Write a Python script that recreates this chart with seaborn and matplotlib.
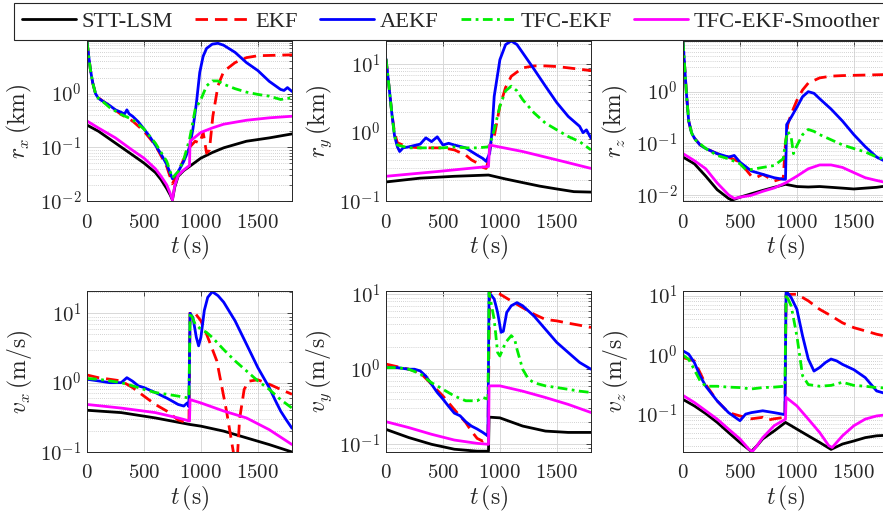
import numpy as np
import pandas as pd
import matplotlib
matplotlib.use("Agg")
import matplotlib.pyplot as plt
import seaborn as sns
from matplotlib.ticker import FuncFormatter, LogLocator, NullFormatter, FixedLocator

# ---------------- data ----------------
series_names = ["STT-LSM", "EKF", "AEKF", "TFC-EKF", "TFC-EKF-Smoother"]

# r_x (km)
rx_t_stt = [0, 100, 250, 400, 500, 600, 650, 700, 730, 750, 770, 800, 850, 900, 1000, 1100, 1200, 1400, 1600, 1800]
rx_stt = [0.26, 0.2, 0.12, 0.072, 0.051, 0.034, 0.025, 0.017, 0.013, 0.0105, 0.018, 0.029, 0.037, 0.044, 0.063, 0.08, 0.098, 0.13, 0.15, 0.178]
rx_t_ekf = [0, 15, 30, 50, 75, 100, 150, 200, 300, 400, 500, 600, 700, 750, 800, 850, 900, 950, 990, 1020, 1050, 1075, 1105, 1150, 1200, 1300, 1400, 1500, 1650, 1800]
rx_ekf = [9.5, 5, 2.8, 1.6, 1.0, 0.84, 0.7, 0.59, 0.41, 0.31, 0.2, 0.11, 0.044, 0.021, 0.035, 0.06, 0.1, 0.13, 0.12, 0.19, 0.078, 0.089, 0.38, 1.4, 2.6, 3.8, 4.7, 5.1, 5.2, 5.3]
rx_t_aekf = [0, 15, 30, 50, 75, 100, 150, 200, 250, 300, 330, 350, 370, 400, 450, 500, 550, 600, 650, 700, 750, 800, 850, 900, 930, 960, 990, 1020, 1050, 1100, 1150, 1200, 1300, 1400, 1500, 1600, 1700, 1730, 1760, 1800]
rx_aekf = [9.5, 5, 2.8, 1.6, 1.0, 0.82, 0.7, 0.6, 0.5, 0.45, 0.42, 0.5, 0.42, 0.38, 0.3, 0.22, 0.16, 0.11, 0.075, 0.048, 0.026, 0.035, 0.055, 0.1, 0.22, 0.65, 2.5, 5.0, 7.0, 8.4, 8.7, 8.0, 5.9, 3.8, 2.7, 1.7, 1.2, 1.15, 1.3, 1.1]
rx_t_tfc = [0, 15, 30, 50, 75, 100, 150, 200, 300, 400, 500, 600, 700, 750, 800, 850, 900, 950, 1000, 1050, 1100, 1150, 1200, 1300, 1400, 1500, 1600, 1700, 1800]
rx_tfc = [9.5, 5, 2.8, 1.6, 1.0, 0.82, 0.68, 0.55, 0.41, 0.33, 0.22, 0.12, 0.055, 0.027, 0.035, 0.06, 0.14, 0.51, 0.78, 1.4, 1.73, 1.73, 1.5, 1.24, 1.07, 0.97, 0.9, 0.78, 0.84]
rx_t_smo = [0, 100, 250, 400, 500, 600, 650, 700, 730, 750, 770, 800, 850, 900, 905, 1000, 1100, 1200, 1400, 1600, 1800]
rx_smo = [0.31, 0.23, 0.15, 0.088, 0.063, 0.04, 0.029, 0.02, 0.014, 0.0105, 0.019, 0.03, 0.038, 0.046, 0.13, 0.19, 0.23, 0.27, 0.32, 0.355, 0.38]

# r_y (km)
ry_t_stt = [0, 300, 600, 900, 1050, 1200, 1350, 1500, 1650, 1800]
ry_stt = [0.19, 0.216, 0.23, 0.24, 0.21, 0.186, 0.165, 0.15, 0.137, 0.135]
ry_t_ekf = [0, 25, 50, 75, 100, 150, 200, 300, 400, 500, 600, 700, 750, 800, 850, 880, 900, 920, 950, 1000, 1050, 1100, 1200, 1300, 1400, 1500, 1600, 1700, 1800]
ry_ekf = [12, 5, 2, 1.0, 0.71, 0.66, 0.62, 0.6, 0.6, 0.6, 0.56, 0.47, 0.4, 0.36, 0.31, 0.3, 0.4, 0.7, 0.88, 2.45, 4.6, 6.7, 8.9, 9.5, 9.5, 9.3, 8.9, 8.5, 8.1]
ry_t_aekf = [0, 25, 50, 75, 100, 120, 150, 200, 250, 300, 350, 400, 450, 500, 550, 600, 700, 750, 800, 850, 880, 910, 930, 950, 1000, 1050, 1100, 1150, 1200, 1300, 1400, 1500, 1600, 1700, 1730, 1760, 1800]
ry_aekf = [12, 5, 2, 0.9, 0.62, 0.53, 0.6, 0.62, 0.65, 0.68, 0.84, 0.74, 0.87, 0.66, 0.7, 0.66, 0.6, 0.53, 0.47, 0.42, 0.38, 0.5, 1.0, 3.4, 11.7, 19.5, 22, 19.5, 14.8, 8.5, 4.8, 2.75, 1.73, 1.24, 1.0, 1.1, 0.83]
ry_t_tfc = [0, 25, 50, 75, 100, 200, 300, 400, 500, 600, 700, 800, 900, 920, 950, 1000, 1050, 1100, 1150, 1200, 1300, 1400, 1500, 1600, 1700, 1800]
ry_tfc = [12, 5, 2, 0.9, 0.66, 0.6, 0.6, 0.6, 0.6, 0.62, 0.6, 0.6, 0.62, 0.75, 1.1, 2.45, 4.1, 4.8, 4.1, 3.05, 1.95, 1.38, 1.1, 0.88, 0.74, 0.56]
ry_t_smo = [0, 450, 900, 910, 1200, 1500, 1800]
ry_smo = [0.23, 0.27, 0.32, 0.66, 0.53, 0.4, 0.3]

# r_z (km)
rz_t_stt = [0, 100, 200, 300, 400, 430, 500, 600, 700, 800, 900, 1000, 1100, 1200, 1300, 1400, 1500, 1600, 1700, 1800]
rz_stt = [0.054, 0.04, 0.023, 0.0126, 0.0085, 0.0079, 0.009, 0.0105, 0.0122, 0.014, 0.016, 0.0145, 0.0142, 0.0145, 0.014, 0.0135, 0.013, 0.0135, 0.014, 0.015]
rz_t_ekf = [0, 15, 30, 50, 75, 100, 150, 200, 300, 400, 500, 600, 650, 700, 800, 880, 900, 920, 950, 1000, 1050, 1100, 1200, 1300, 1400, 1600, 1800]
rz_ekf = [9.5, 3, 0.93, 0.27, 0.16, 0.126, 0.093, 0.079, 0.063, 0.054, 0.043, 0.023, 0.022, 0.025, 0.0185, 0.021, 0.1, 0.23, 0.37, 0.68, 1.08, 1.47, 1.85, 2.0, 2.05, 2.1, 2.15]
rz_t_aekf = [0, 15, 30, 50, 75, 100, 150, 200, 300, 400, 450, 500, 600, 700, 800, 880, 900, 910, 950, 1000, 1050, 1100, 1150, 1200, 1300, 1400, 1500, 1600, 1700, 1800]
rz_aekf = [9.5, 3, 0.93, 0.27, 0.16, 0.126, 0.093, 0.079, 0.063, 0.054, 0.058, 0.043, 0.029, 0.025, 0.0215, 0.02, 0.02, 0.23, 0.32, 0.5, 0.8, 1.0, 0.93, 0.73, 0.46, 0.27, 0.147, 0.086, 0.054, 0.042]
rz_t_tfc = [0, 15, 30, 50, 75, 100, 200, 300, 400, 500, 550, 600, 700, 800, 880, 900, 920, 950, 970, 1000, 1050, 1100, 1150, 1200, 1300, 1400, 1500, 1600, 1700, 1800]
rz_tfc = [9.5, 3, 0.93, 0.27, 0.16, 0.12, 0.079, 0.058, 0.05, 0.04, 0.031, 0.031, 0.034, 0.037, 0.05, 0.107, 0.17, 0.13, 0.063, 0.09, 0.147, 0.185, 0.17, 0.147, 0.117, 0.093, 0.079, 0.068, 0.054, 0.048]
rz_t_smo = [0, 100, 200, 300, 400, 450, 500, 600, 700, 800, 900, 1000, 1100, 1200, 1300, 1400, 1500, 1600, 1700, 1800]
rz_smo = [0.063, 0.046, 0.032, 0.017, 0.010, 0.0085, 0.009, 0.0098, 0.0117, 0.0136, 0.017, 0.023, 0.032, 0.038, 0.038, 0.034, 0.027, 0.0215, 0.019, 0.017]

# v_x (m/s)
vx_t_stt = [0, 300, 600, 900, 1000, 1200, 1400, 1600, 1800]
vx_stt = [0.4, 0.37, 0.31, 0.25, 0.236, 0.2, 0.16, 0.128, 0.1]
vx_t_ekf = [0, 100, 200, 300, 400, 500, 600, 700, 800, 895, 905, 950, 1000, 1050, 1140, 1225, 1285, 1300, 1315, 1340, 1380, 1420, 1500, 1600, 1700, 1800]
vx_ekf = [1.29, 1.18, 1.12, 1.06, 0.85, 0.64, 0.485, 0.39, 0.29, 0.26, 10.5, 10, 7.8, 5.0, 2.06, 0.39, 0.1, 0.04, 0.06, 0.3, 0.8, 1.05, 1.1, 0.95, 0.8, 0.68]
vx_t_aekf = [0, 100, 200, 300, 350, 400, 450, 500, 600, 700, 750, 800, 850, 880, 895, 905, 930, 960, 980, 1000, 1030, 1060, 1100, 1150, 1200, 1300, 1400, 1500, 1600, 1650, 1700, 1750, 1800]
vx_aekf = [1.12, 1.06, 1.0, 1.0, 1.18, 1.05, 0.9, 0.85, 0.72, 0.6, 0.54, 0.485, 0.46, 0.51, 0.45, 10, 8.7, 4.5, 3.4, 4.5, 11, 17, 20.5, 18, 14.5, 7.8, 3.6, 1.65, 0.85, 0.57, 0.39, 0.29, 0.22]
vx_t_tfc = [0, 100, 200, 300, 400, 500, 600, 700, 800, 895, 905, 950, 1000, 1050, 1100, 1200, 1300, 1400, 1500, 1600, 1700, 1800]
vx_tfc = [1.15, 1.12, 1.06, 1.0, 0.9, 0.8, 0.72, 0.68, 0.64, 0.6, 10.3, 7.0, 5.9, 5.3, 4.5, 3.0, 2.06, 1.48, 1.06, 0.8, 0.57, 0.43]
vx_t_smo = [0, 300, 600, 800, 900, 905, 1000, 1200, 1400, 1600, 1800]
vx_smo = [0.485, 0.43, 0.37, 0.31, 0.28, 0.57, 0.51, 0.39, 0.31, 0.21, 0.128]

# v_y (m/s)
vy_t_stt = [0, 200, 400, 600, 800, 900, 905, 1000, 1200, 1400, 1600, 1800]
vy_stt = [0.158, 0.123, 0.1, 0.086, 0.081, 0.081, 0.23, 0.225, 0.175, 0.15, 0.144, 0.144]
vy_t_ekf = [0, 100, 200, 300, 400, 500, 600, 700, 750, 800, 850, 895, 910, 1000, 1100, 1200, 1300, 1400, 1500, 1600, 1700, 1800]
vy_ekf = [1.17, 1.08, 1.0, 0.9, 0.63, 0.44, 0.29, 0.195, 0.15, 0.12, 0.11, 0.12, 11, 10, 8.1, 6.6, 5.4, 4.6, 4.4, 4.1, 3.85, 3.6]
vy_t_aekf = [0, 100, 200, 250, 300, 350, 400, 450, 500, 550, 600, 650, 700, 750, 800, 850, 895, 905, 950, 980, 1010, 1030, 1060, 1100, 1150, 1200, 1300, 1400, 1500, 1600, 1700, 1800]
vy_aekf = [1.05, 1.05, 1.0, 1.0, 0.95, 0.81, 0.63, 0.49, 0.4, 0.32, 0.26, 0.24, 0.2, 0.175, 0.16, 0.144, 0.129, 10.5, 8.6, 5.7, 3.1, 3.2, 5.7, 7.0, 7.7, 7.0, 5.1, 3.4, 2.27, 1.67, 1.23, 1.0]
vy_t_tfc = [0, 100, 200, 300, 400, 450, 500, 600, 700, 800, 850, 895, 905, 950, 980, 1000, 1050, 1100, 1130, 1150, 1200, 1250, 1300, 1400, 1500, 1600, 1700, 1800]
vy_tfc = [1.05, 1.05, 1.0, 0.87, 0.66, 0.6, 0.54, 0.44, 0.38, 0.38, 0.42, 0.4, 10.5, 4.6, 1.67, 1.5, 2.27, 2.8, 2.5, 1.85, 1.0, 0.74, 0.66, 0.6, 0.57, 0.54, 0.51, 0.49]
vy_t_smo = [0, 200, 400, 600, 800, 900, 905, 1000, 1200, 1400, 1600, 1800]
vy_smo = [0.2, 0.167, 0.136, 0.114, 0.103, 0.1, 0.6, 0.6, 0.51, 0.42, 0.34, 0.265]

# v_z (m/s)
vz_t_stt = [0, 100, 200, 300, 400, 500, 600, 650, 700, 800, 900, 950, 1000, 1100, 1200, 1300, 1400, 1500, 1600, 1700, 1800]
vz_stt = [0.18, 0.14, 0.104, 0.074, 0.05, 0.034, 0.024, 0.03, 0.039, 0.053, 0.074, 0.065, 0.057, 0.044, 0.034, 0.026, 0.032, 0.036, 0.041, 0.044, 0.045]
vz_t_ekf = [0, 100, 200, 300, 400, 500, 600, 700, 750, 800, 895, 905, 1000, 1100, 1200, 1300, 1400, 1500, 1600, 1700, 1800]
vz_ekf = [0.91, 0.8, 0.32, 0.17, 0.108, 0.095, 0.085, 0.09, 0.081, 0.085, 0.09, 10.5, 10.6, 8.2, 5.9, 4.6, 3.5, 2.9, 2.56, 2.25, 2.05]
vz_t_aekf = [0, 50, 100, 150, 200, 300, 400, 500, 550, 600, 700, 800, 895, 905, 950, 1000, 1050, 1100, 1150, 1200, 1250, 1300, 1350, 1400, 1500, 1600, 1700, 1800]
vz_aekf = [1.18, 1.04, 0.75, 0.45, 0.3, 0.17, 0.108, 0.079, 0.102, 0.108, 0.116, 0.108, 0.1, 12, 9.3, 5.9, 2.1, 0.86, 0.54, 0.62, 0.75, 0.86, 0.8, 0.7, 0.57, 0.42, 0.25, 0.22]
vz_t_tfc = [0, 50, 100, 150, 200, 300, 400, 500, 600, 700, 800, 895, 905, 950, 1000, 1050, 1100, 1200, 1300, 1400, 1500, 1600, 1700, 1800]
vz_tfc = [1.0, 0.85, 0.57, 0.37, 0.3, 0.3, 0.29, 0.285, 0.27, 0.285, 0.29, 0.3, 10.5, 6.7, 2.1, 0.45, 0.32, 0.3, 0.31, 0.35, 0.31, 0.3, 0.285, 0.28]
vz_t_smo = [0, 100, 200, 300, 400, 500, 580, 610, 650, 700, 800, 900, 905, 1000, 1100, 1200, 1280, 1310, 1400, 1500, 1600, 1700, 1800]
vz_smo = [0.21, 0.16, 0.116, 0.084, 0.057, 0.039, 0.026, 0.024, 0.03, 0.041, 0.065, 0.084, 0.195, 0.14, 0.084, 0.05, 0.03, 0.028, 0.044, 0.065, 0.084, 0.095, 0.1]

x_ticks = [0, 500, 1000, 1500]
y_labels = [r"$r_x\,(\mathrm{km})$", r"$r_y\,(\mathrm{km})$", r"$r_z\,(\mathrm{km})$",
            r"$v_x\,(\mathrm{m/s})$", r"$v_y\,(\mathrm{m/s})$", r"$v_z\,(\mathrm{m/s})$"]

panels = [
    [(rx_t_stt, rx_stt), (rx_t_ekf, rx_ekf), (rx_t_aekf, rx_aekf), (rx_t_tfc, rx_tfc), (rx_t_smo, rx_smo)],
    [(ry_t_stt, ry_stt), (ry_t_ekf, ry_ekf), (ry_t_aekf, ry_aekf), (ry_t_tfc, ry_tfc), (ry_t_smo, ry_smo)],
    [(rz_t_stt, rz_stt), (rz_t_ekf, rz_ekf), (rz_t_aekf, rz_aekf), (rz_t_tfc, rz_tfc), (rz_t_smo, rz_smo)],
    [(vx_t_stt, vx_stt), (vx_t_ekf, vx_ekf), (vx_t_aekf, vx_aekf), (vx_t_tfc, vx_tfc), (vx_t_smo, vx_smo)],
    [(vy_t_stt, vy_stt), (vy_t_ekf, vy_ekf), (vy_t_aekf, vy_aekf), (vy_t_tfc, vy_tfc), (vy_t_smo, vy_smo)],
    [(vz_t_stt, vz_stt), (vz_t_ekf, vz_ekf), (vz_t_aekf, vz_aekf), (vz_t_tfc, vz_tfc), (vz_t_smo, vz_smo)],
]

# ---------------- styling ----------------
sns.set_theme(style="white")
plt.rcParams["font.family"] = ["Liberation Serif", "DejaVu Serif"]
plt.rcParams["mathtext.fontset"] = "cm"

palette = {"STT-LSM": "#000000", "EKF": "#ff0000", "AEKF": "#0000ff",
           "TFC-EKF": "#00ee00", "TFC-EKF-Smoother": "#ff00ff"}
dashes = {"STT-LSM": "", "EKF": (4.5, 2.5), "AEKF": "",
          "TFC-EKF": (3.5, 1.6, 1.0, 1.6), "TFC-EKF-Smoother": ""}
ylims = [(0.01, 9.6), (0.1, 22), (0.0076, 9.6), (0.1, 21), (0.079, 11), (0.0235, 12)]

W, H = 883, 521
fig = plt.figure(figsize=(W / 100, H / 100), dpi=100)
lefts = [87, 386, 683]
rows = [(41, 201), (291, 452)]
axw = 205

spine_col = "#262626"
axes = []
for i, pdata in enumerate(panels):
    r, c = divmod(i, 3)
    top, bot = rows[r]
    ax = fig.add_axes([lefts[c] / W, 1 - bot / H, axw / W, (bot - top) / H])
    frames = []
    for name, (tt, vv) in zip(series_names, pdata):
        frames.append(pd.DataFrame({"t": tt, "value": vv, "series": name}))
    df = pd.concat(frames, ignore_index=True)
    sns.lineplot(data=df, x="t", y="value", hue="series", style="series",
                 hue_order=series_names, style_order=series_names,
                 palette=palette, dashes=dashes, estimator=None, sort=False,
                 linewidth=2.0, legend=False, ax=ax)
    ax.set_yscale("log")
    ax.set_xlim(0, 1800)
    ax.set_ylim(*ylims[i])
    ax.xaxis.set_major_locator(FixedLocator(x_ticks))
    ax.xaxis.set_major_formatter(FuncFormatter(lambda v, p: f"${int(v)}$"))
    ax.yaxis.set_major_locator(LogLocator(base=10, numticks=12))
    ax.yaxis.set_minor_locator(LogLocator(base=10, subs=np.arange(2, 10), numticks=12))
    ax.yaxis.set_major_formatter(FuncFormatter(lambda v, p: f"$10^{{{int(round(np.log10(v)))}}}$"))
    ax.yaxis.set_minor_formatter(NullFormatter())
    ax.grid(which="major", color="#d8d8d8", lw=0.7, ls="-")
    ax.grid(which="minor", axis="y", color="#c4c4c4", lw=0.6, ls=(0, (1, 1.5)))
    ax.set_axisbelow(True)
    ax.tick_params(axis="both", which="both", direction="in", top=True, right=True,
                   colors=spine_col, labelcolor="#262626")
    ax.tick_params(axis="both", which="major", length=3.5, width=0.6, labelsize=15)
    ax.tick_params(axis="both", which="minor", length=2, width=0.5)
    ax.tick_params(axis="x", pad=9)
    ax.tick_params(axis="y", pad=4)
    for s in ax.spines.values():
        s.set_color(spine_col)
        s.set_linewidth(0.7)
    ax.set_xlabel(r"$t\,(\mathrm{s})$", fontsize=17, labelpad=0, color="#262626")
    ax.set_ylabel(y_labels[i], fontsize=17, labelpad=4, color="#262626")
    axes.append(ax)

handles = axes[0].get_lines()[:5]
leg = fig.legend(handles, series_names, loc="upper left",
                 bbox_to_anchor=(14 / W, 1 - 3 / H), ncol=5, frameon=True,
                 fontsize=16.2, handlelength=2.4, handletextpad=0.25,
                 columnspacing=1.0, borderpad=0.35, borderaxespad=0.0,
                 fancybox=False, edgecolor=spine_col, framealpha=1.0)
leg.get_frame().set_linewidth(0.8)

fig.savefig("out.png", dpi=100)
